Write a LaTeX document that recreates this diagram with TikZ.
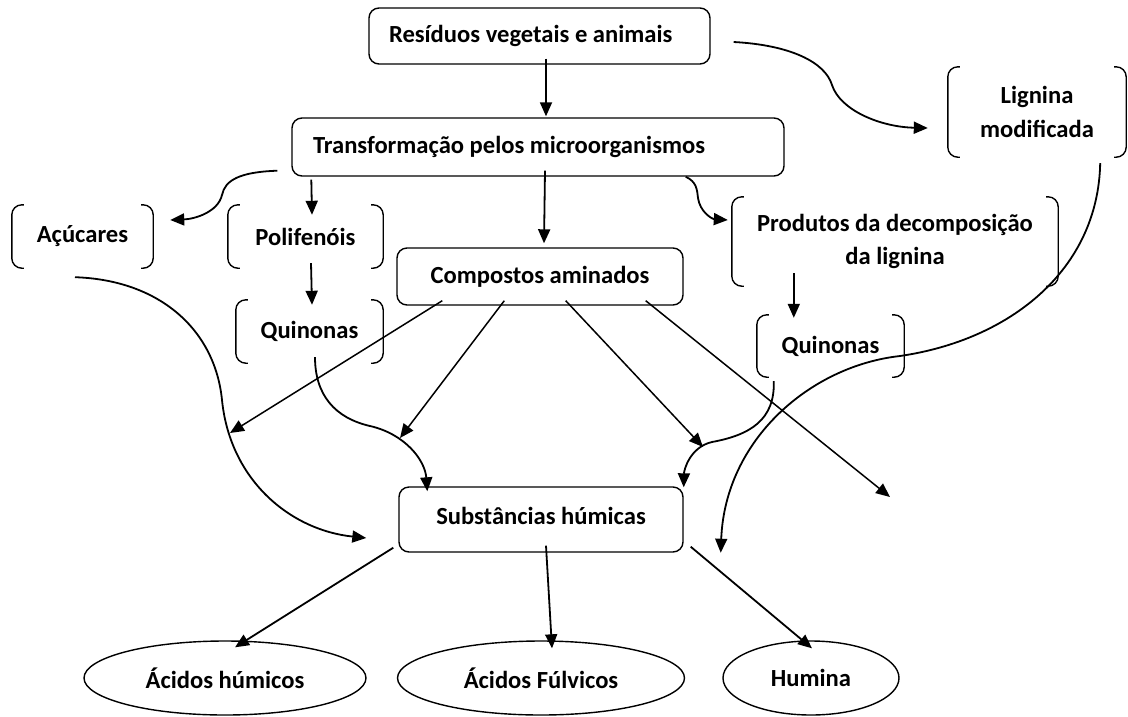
\documentclass[tikz,border=0pt]{standalone}
\usepackage{fontspec}
\setmainfont{Carlito}
\usetikzlibrary{shapes.geometric,arrows.meta,calc}
\begin{document}
\begin{tikzpicture}[x=1pt,y=-1pt,
  font=\fontsize{24.6}{33.5}\selectfont\bfseries,
  box/.style={draw,line width=1.4pt,rounded corners=10pt,inner sep=0pt},
  brk/.style={inner sep=0pt,align=center},
  oval/.style={draw,ellipse,line width=1.4pt,inner sep=0pt,minimum height=74pt},
  conn/.style={line width=1.8pt},
  arr/.style={conn,-{Triangle[length=14pt,width=12pt]}},
  thinarr/.style={line width=1.5pt,-{Triangle[length=14pt,width=12pt]}},
  bline/.style={line width=1.4pt,rounded corners=10pt}]
\useasboundingbox (0,0) rectangle (1128,716);

% boxes
\node[box,minimum width=341pt,minimum height=56pt,inner xsep=20pt] (res) at (539.5,36) {\makebox[301pt][l]{Resíduos vegetais e animais}};
\node[box,minimum width=492pt,minimum height=58pt,inner xsep=21pt] (trans) at (538,147) {\makebox[450pt][l]{Transformação pelos microorganismos}};
\node[box,minimum width=286pt,minimum height=57pt] (comp) at (540,276.5) {Compostos aminados};
\node[box,minimum width=284pt,minimum height=65pt,text depth=8pt] (sub) at (541,519.5) {Substâncias húmicas};

% bracketed nodes
\node[brk,minimum width=178pt,minimum height=90pt] (lig) at (1037,112) {Lignina\\modificada};
\node[brk,minimum width=141pt,minimum height=63pt] (acu) at (82.5,236.5) {Açúcares};
\node[brk,minimum width=155pt,minimum height=63pt] (pol) at (305.5,236.5) {Polifenóis};
\node[brk,minimum width=147pt,minimum height=63pt] (quil) at (309.5,331.5) {Quinonas};
\node[brk,minimum width=326pt,minimum height=89pt] (prod) at (895,241.5) {Produtos da decomposição\\da lignina};
\node[brk,minimum width=147pt,minimum height=62pt] (quir) at (830.5,346) {Quinonas};

\foreach \n in {lig,acu,pol,quil,prod,quir}{
  \draw[bline] ([xshift=12pt]\n.north west) -- (\n.north west) -- (\n.south west) -- ([xshift=12pt]\n.south west);
  \draw[bline] ([xshift=-12pt]\n.north east) -- (\n.north east) -- (\n.south east) -- ([xshift=-12pt]\n.south east);
}

% ellipses
\node[oval,minimum width=282pt] (ah) at (225,678) {Ácidos húmicos};
\node[oval,minimum width=287pt] (af) at (541,678) {Ácidos Fúlvicos};
\node[oval,minimum width=176pt] (hum) at (811,678) {Humina};

% connectors
\draw[arr] ([xshift=6.5pt,yshift=6pt]res.south) -- ([xshift=8pt,yshift=1pt]trans.north);
\draw[arr] ([xshift=7pt,yshift=6pt]trans.south) -- ([xshift=4pt,yshift=4pt]comp.north);
\draw[arr] ([xshift=-14pt,yshift=6pt]trans.south west) .. controls (240,172) and (225,180) .. (222,195) .. controls (218,212) and (195,219) .. ([xshift=17pt,yshift=16.5pt]acu.east);
\draw[arr] ([xshift=20pt,yshift=-3pt]trans.south west) -- ([xshift=6.5pt,yshift=-10pt]pol.north);
\draw[arr] ([xshift=5.5pt,yshift=5pt]pol.south) -- ([xshift=2.5pt,yshift=-5pt]quil.north);
\draw[arr] ([xshift=-99pt]trans.south east) .. controls (697,182) and (697,190) .. (698,198) .. controls (700,212) and (712,219) .. ([xshift=-4pt,yshift=21.5pt]prod.west);
\draw[arr] ([xshift=62pt,yshift=13pt]prod.south west) -- ([xshift=37pt,yshift=-3pt]quir.north west);
\draw[arr] ([xshift=23pt,yshift=-6pt]res.east) .. controls (790,45) and (825,62) .. (832,85) .. controls (840,110) and (880,127) .. ([xshift=-20pt,yshift=-16pt]lig.west);
\draw[arr] ([xshift=-26pt,yshift=-6pt]lig.south east) .. controls (1098,270) and (1010,340) .. (900,356) .. controls (810,366) and (725,440) .. ([xshift=37pt]sub.south east);
\draw[arr] ([xshift=-7.5pt,yshift=-9pt]acu.south) .. controls (160,280) and (215,330) .. (222,400) .. controls (230,480) and (290,530) .. ([xshift=-32pt,yshift=-18.5pt]sub.west);
\draw[arr] ([xshift=5.5pt,yshift=6pt]quil.south) .. controls (315,395) and (335,418) .. (370,426) .. controls (405,434) and (425,460) .. ([xshift=29pt,yshift=-5pt]sub.north west);
\draw[arr] ([xshift=17pt,yshift=-4pt]quir.south west) .. controls (775,420) and (750,435) .. (712,442) .. controls (690,447) and (684,470) .. ([yshift=-1pt]sub.north east);

\coordinate (f1) at (230,433);
\coordinate (f2) at (400,438);
\coordinate (f3) at (703,447);
\coordinate (f4) at (890,497);
\draw[thinarr] ([xshift=46pt,yshift=5pt]comp.south west) -- (f1);
\draw[thinarr] ([xshift=108pt,yshift=5pt]comp.south west) -- (f2);
\draw[thinarr] ([xshift=-118pt,yshift=5pt]comp.south east) -- (f3);
\draw[thinarr] ([xshift=-38pt,yshift=5pt]comp.south east) -- (f4);

\draw[arr] ([xshift=-5pt,yshift=5pt]sub.south west) -- ([xshift=10pt,yshift=-7pt]ah.north);
\draw[arr] ([xshift=5pt,yshift=7pt]sub.south) -- ([xshift=11pt,yshift=-8pt]af.north);
\draw[arr] ([xshift=7pt,yshift=6pt]sub.south east) -- ([xshift=1pt,yshift=-8pt]hum.north);
\end{tikzpicture}
\end{document}
